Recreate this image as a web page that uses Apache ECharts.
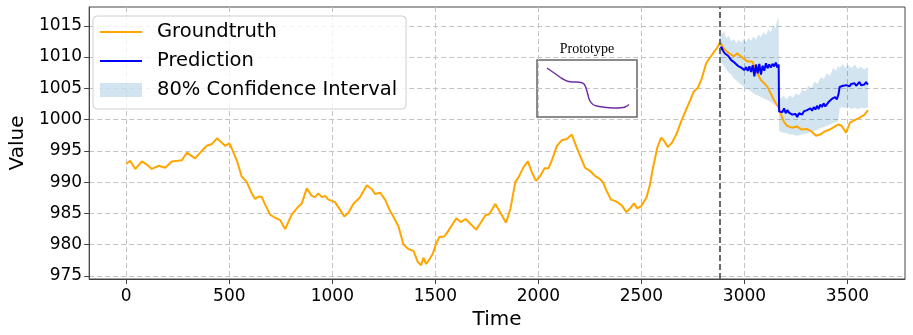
<!DOCTYPE html>
<html>
<head>
<meta charset="utf-8">
<title>Prediction</title>
<script src="https://cdn.jsdelivr.net/npm/echarts@6/dist/echarts.min.js"></script>
<style>
    html, body { margin: 0; padding: 0; background: #fff; }
    #main { width: 913px; height: 335px; }
</style>
</head>
<body>
<div id="main"></div>
<script>
// ground truth series (time, value)
var gtTime = [0, 19, 44, 76, 100, 124, 157, 189, 221, 250, 270, 294, 334, 367, 391, 416, 440, 460, 480, 500,
    512, 537, 560, 585, 609, 625, 645, 658, 674, 698, 722, 747, 771, 803, 836, 852, 876, 900, 916, 932,
    949, 965, 981, 1013, 1037, 1058, 1078, 1102, 1135, 1167, 1191, 1207, 1232, 1256, 1280, 1296, 1321, 1345, 1369, 1394,
    1415, 1431, 1442, 1455, 1468, 1487, 1503, 1519, 1543, 1559, 1580, 1602, 1623, 1647, 1671, 1698, 1724, 1743, 1762, 1791,
    1810, 1843, 1864, 1888, 1904, 1928, 1949, 1968, 1988, 2009, 2030, 2049, 2068, 2090, 2114, 2138, 2162, 2186, 2210, 2226,
    2250, 2274, 2298, 2314, 2331, 2352, 2371, 2387, 2406, 2427, 2448, 2464, 2480, 2500, 2524, 2540, 2556, 2577, 2596, 2612,
    2628, 2648, 2669, 2693, 2717, 2738, 2754, 2774, 2793, 2814, 2835, 2854, 2870, 2882, 2901, 2925, 2949, 2965, 2982, 3014,
    3038, 3054, 3078, 3110, 3142, 3166, 3190, 3207, 3230, 3254, 3278, 3302, 3326, 3347, 3366, 3390, 3414, 3439, 3455, 3471,
    3493, 3512, 3535, 3559, 3583, 3599];
var gtValue = [992.9, 993.4, 992.1, 993.3, 992.8, 992.1, 992.6, 992.3, 993.3, 993.4, 993.5, 994.7, 993.8, 995.0, 995.8, 996.1, 997.0, 996.4, 995.8, 996.2,
    995.4, 993.4, 990.9, 990.0, 988.2, 987.3, 987.7, 987.6, 986.4, 984.8, 984.3, 983.9, 982.5, 984.8, 986.1, 986.6, 989.0, 987.8, 987.6, 988.2,
    987.6, 987.8, 987.2, 986.8, 985.6, 984.5, 985.1, 986.5, 987.6, 989.5, 988.9, 988.1, 988.3, 987.2, 985.4, 984.5, 982.9, 980.0, 979.3, 979.0,
    977.2, 976.7, 977.9, 976.9, 977.5, 978.5, 980.1, 981.2, 981.3, 982.0, 983.1, 984.2, 983.6, 984.1, 983.3, 982.4, 983.7, 984.7, 984.9, 986.5,
    985.4, 983.5, 985.7, 990.0, 990.8, 992.4, 993.3, 991.6, 990.2, 991.0, 992.2, 992.2, 993.7, 995.8, 996.7, 996.9, 997.6, 995.5, 993.6, 992.3,
    991.8, 991.0, 990.5, 989.9, 988.6, 987.2, 987.0, 986.7, 986.2, 985.2, 985.9, 986.6, 985.8, 986.2, 987.5, 989.4, 992.3, 995.5, 997.1, 996.5,
    995.6, 996.3, 997.6, 999.7, 1001.6, 1003.2, 1004.5, 1005.1, 1006.6, 1009.0, 1010.0, 1010.9, 1011.6, 1012.4, 1011.3, 1010.6, 1010.1, 1010.6, 1010.1, 1009.3,
    1009.3, 1008.0, 1006.4, 1005.3, 1003.2, 1001.9, 999.7, 999.0, 998.7, 998.9, 998.4, 998.5, 998.1, 997.4, 997.6, 998.1, 998.4, 998.9, 999.2, 999.0,
    997.9, 999.5, 999.9, 1000.3, 1000.8, 1001.5];

// prediction
var predTime = [2880, 2888, 2896, 2904, 2912, 2920, 2928, 2936, 2944, 2952, 2960, 2968, 2976, 2984, 2992, 3000, 3008, 3016, 3024, 3032,
    3040, 3048, 3056, 3064, 3072, 3080, 3088, 3096, 3104, 3112, 3120, 3128, 3136, 3144, 3152, 3160, 3166, 3168, 3176, 3184,
    3192, 3200, 3208, 3216, 3224, 3232, 3240, 3248, 3256, 3264, 3272, 3280, 3288, 3296, 3304, 3312, 3320, 3328, 3336, 3344,
    3352, 3360, 3368, 3376, 3384, 3392, 3400, 3408, 3416, 3424, 3432, 3440, 3448, 3456, 3462, 3470, 3478, 3486, 3494, 3502,
    3510, 3518, 3526, 3534, 3542, 3550, 3558, 3566, 3574, 3582, 3590, 3599];
var predValue = [1011.0, 1011.6, 1011.0, 1010.6, 1010.9, 1010.2, 1010.0, 1009.5, 1009.8, 1009.1, 1009.0, 1008.6, 1008.9, 1008.3, 1008.6, 1007.9, 1008.4, 1007.8, 1008.5, 1007.6,
    1008.7, 1006.9, 1008.8, 1007.4, 1008.9, 1007.2, 1008.6, 1007.8, 1009.0, 1008.2, 1008.8, 1008.3, 1008.9, 1008.5, 1009.1, 1008.3, 1008.8, 1001.3, 1001.6, 1001.2,
    1001.8, 1001.0, 1001.5, 1001.1, 1001.3, 1000.8, 1000.6, 1000.9, 1000.4, 1001.0, 1001.1, 1000.8, 1001.3, 1001.0, 1001.5, 1001.2, 1001.8, 1001.4, 1002.0, 1001.6,
    1002.2, 1001.7, 1002.4, 1002.0, 1002.6, 1002.1, 1002.3, 1002.8, 1002.5, 1003.3, 1003.0, 1003.6, 1003.2, 1004.0, 1005.2, 1005.5, 1005.4, 1005.7, 1005.5, 1005.6,
    1005.3, 1005.7, 1005.5, 1005.8, 1005.4, 1005.6, 1006.0, 1005.5, 1005.8, 1005.6, 1006.0, 1005.6];

// 80% confidence interval
var ciTime = [2880, 2890, 2900, 2912, 2924, 2936, 2948, 2960, 2972, 2984, 2996, 3008, 3020, 3032, 3044, 3056, 3068, 3080, 3092, 3104,
    3116, 3128, 3140, 3150, 3158, 3166, 3168, 3176, 3190, 3205, 3220, 3235, 3250, 3265, 3280, 3295, 3310, 3325, 3340, 3355,
    3370, 3385, 3400, 3415, 3430, 3445, 3455, 3462, 3475, 3490, 3505, 3520, 3535, 3550, 3565, 3580, 3599];
var ciLower = [1009.4, 1009.0, 1008.6, 1008.0, 1007.5, 1007.2, 1006.6, 1006.3, 1005.9, 1005.6, 1005.3, 1005.0, 1004.8, 1004.5, 1004.2, 1004.0, 1003.8, 1003.6, 1003.4, 1003.2,
    1003.0, 1002.8, 1002.5, 1002.3, 1002.1, 1002.0, 998.3, 998.0, 997.9, 997.8, 997.6, 997.6, 997.4, 997.5, 997.6, 997.7, 997.9, 998.0, 998.2, 998.4,
    998.6, 998.8, 999.0, 999.2, 999.4, 999.6, 999.8, 1001.8, 1002.0, 1001.8, 1002.0, 1001.7, 1001.9, 1001.7, 1001.9, 1001.8, 1001.9];
var ciUpper = [1014.6, 1013.6, 1014.2, 1013.0, 1013.4, 1012.5, 1012.9, 1012.2, 1012.8, 1012.3, 1012.9, 1012.4, 1013.1, 1012.6, 1013.3, 1012.8, 1013.6, 1013.2, 1014.0, 1013.5,
    1014.4, 1014.0, 1015.1, 1014.6, 1015.8, 1016.3, 1003.6, 1003.4, 1003.8, 1003.2, 1003.9, 1003.5, 1004.2, 1003.9, 1004.8, 1004.5, 1005.4, 1005.0, 1006.1, 1005.7,
    1006.8, 1006.5, 1007.4, 1007.0, 1008.2, 1007.8, 1008.6, 1008.2, 1008.9, 1008.3, 1008.7, 1008.2, 1008.8, 1008.1, 1008.5, 1008.0, 1008.4];

var splitTime = 2880;

// prototype inset curve
var protoX = [10, 15, 20, 25, 30, 35, 40, 44, 47, 49, 51, 53, 56, 60, 66, 72, 78, 84, 88, 92];
var protoY = [49, 45.5, 42, 38.5, 36, 35, 35, 34.6, 33, 29, 22, 16, 12.5, 11, 10, 9.3, 9, 9.3, 10, 12.5];

var xTicks = [0, 500, 1000, 1500, 2000, 2500, 3000, 3500];
var yTicks = [975, 980, 985, 990, 995, 1000, 1005, 1010, 1015];

function pairs(xs, ys) {
    var out = [];
    for (var i = 0; i < xs.length; i++) out.push([xs[i], ys[i]]);
    return out;
}

var ciData = [];
for (var i = 0; i < ciTime.length; i++) ciData.push([ciTime[i], ciLower[i], ciUpper[i]]);

// band polygon: upper edge forward, lower edge backward
function renderBand(params, api) {
    if (params.dataIndex !== 0) return;
    var pts = [];
    for (var i = 0; i < ciTime.length; i++) pts.push(api.coord([ciTime[i], ciUpper[i]]));
    for (var j = ciTime.length - 1; j >= 0; j--) pts.push(api.coord([ciTime[j], ciLower[j]]));
    return {
        type: 'polygon',
        shape: { points: pts },
        style: { fill: 'rgba(31,119,180,0.2)', stroke: null }
    };
}

var font = 'DejaVu Sans';
var gridLine = { show: true, lineStyle: { color: '#c4c4c4', type: [5, 3], width: 1 } };
var plain = function (v) { return String(v); };
// thin line legend handle (tiny specks keep the 42x14 box)
var lineIcon = 'path://M0,0L0.01,0L0.01,0.01Z M0,6L42,6L42,8L0,8Z M0,13.99L0.01,13.99L0.01,14Z';

var myChart = echarts.init(document.getElementById('main'), null, { renderer: 'canvas' });
myChart.setOption({
    animation: false,
    backgroundColor: '#fff',
    grid: [
        { left: 84, right: 8, top: 7, bottom: 56, show: true, borderColor: '#444', borderWidth: 1, backgroundColor: 'transparent' },
        { left: 537, top: 60, width: 100, height: 57, show: true, borderColor: '#666', borderWidth: 1.5, backgroundColor: 'transparent' }
    ],
    legend: {
        orient: 'vertical',
        left: 93,
        top: 16,
        itemWidth: 42,
        itemHeight: 14,
        itemGap: 7,
        padding: [5, 9, 8, 7],
        backgroundColor: 'rgba(255,255,255,0.8)',
        borderColor: '#d0d0d0',
        borderWidth: 1,
        borderRadius: 4,
        textStyle: { fontFamily: font, fontSize: 19.5, color: '#000', lineHeight: 22, padding: [0, 0, 0, 10] },
        data: [
            { name: 'Groundtruth', icon: lineIcon },
            { name: 'Prediction', icon: lineIcon },
            { name: '80% Confidence Interval', icon: 'rect' }
        ]
    },
    graphic: [{
        type: 'text',
        x: 587,
        y: 49,
        style: { text: 'Prototype', fill: '#000', font: '14px "Liberation Serif"', textAlign: 'center', textVerticalAlign: 'middle' }
    }],
    xAxis: [{
        type: 'value',
        gridIndex: 0,
        min: -180,
        max: 3779,
        name: 'Time',
        nameLocation: 'middle',
        nameGap: 31,
        nameTextStyle: { fontFamily: font, fontSize: 20, color: '#000' },
        axisLine: { show: true, onZero: false, lineStyle: { color: '#444', width: 1 } },
        axisTick: { show: true, length: 5, customValues: xTicks, lineStyle: { color: '#444' } },
        axisLabel: { customValues: xTicks, formatter: plain, fontFamily: font, fontSize: 17, color: '#000', margin: 9 },
        splitLine: gridLine
    }, {
        type: 'value', gridIndex: 1, min: 0, max: 100, show: false
    }],
    yAxis: [{
        type: 'value',
        gridIndex: 0,
        min: 974.5,
        max: 1018,
        name: 'Value',
        nameLocation: 'middle',
        nameGap: 57,
        nameTextStyle: { fontFamily: font, fontSize: 20, color: '#000' },
        axisLine: { show: true, onZero: false, lineStyle: { color: '#444', width: 1 } },
        axisTick: { show: true, length: 5, customValues: yTicks, lineStyle: { color: '#444' } },
        axisLabel: { customValues: yTicks, formatter: plain, fontFamily: font, fontSize: 17, color: '#000', margin: 7 },
        splitLine: gridLine
    }, {
        type: 'value', gridIndex: 1, min: 0, max: 57, show: false
    }],
    series: [
        {
            name: '80% Confidence Interval',
            type: 'custom',
            data: ciData,
            encode: { x: 0, y: [1, 2] },
            renderItem: renderBand,
            silent: true,
            itemStyle: { color: 'rgba(31,119,180,0.2)' },
            z: 1
        },
        {
            name: 'Groundtruth',
            type: 'line',
            data: pairs(gtTime, gtValue),
            symbol: 'none',
            itemStyle: { color: '#ffa500' },
            lineStyle: { color: '#ffa500', width: 2 },
            z: 3,
            markLine: {
                silent: true,
                symbol: 'none',
                label: { show: false },
                lineStyle: { color: '#6a6a6a', type: [6, 3], width: 2 },
                data: [{ xAxis: splitTime }]
            }
        },
        {
            name: 'Prediction',
            type: 'line',
            data: pairs(predTime, predValue),
            symbol: 'none',
            itemStyle: { color: '#0000ff' },
            lineStyle: { color: '#0000ff', width: 2 },
            z: 4
        },
        {
            name: 'Prototype',
            type: 'line',
            xAxisIndex: 1,
            yAxisIndex: 1,
            data: pairs(protoX, protoY),
            smooth: true,
            symbol: 'none',
            silent: true,
            lineStyle: { color: '#6f2da8', width: 1.5 },
            z: 5
        }
    ]
});
</script>
</body>
</html>
